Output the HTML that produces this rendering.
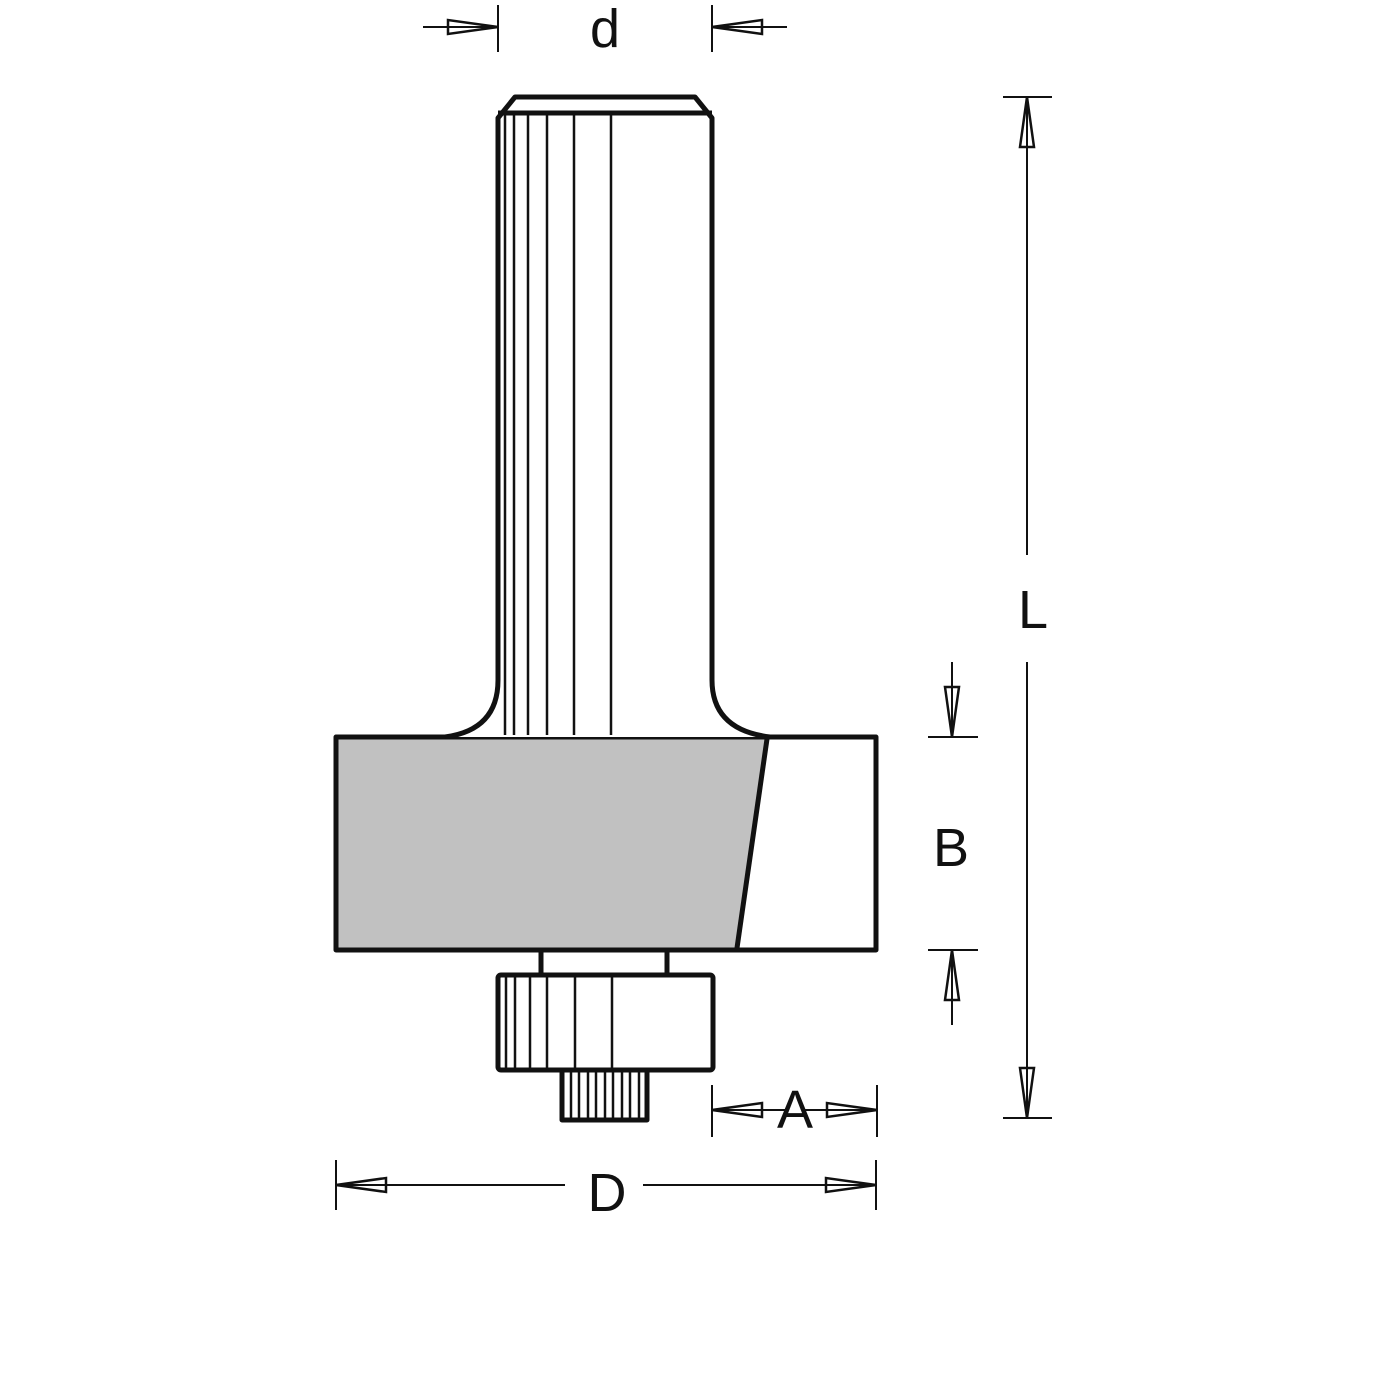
<!DOCTYPE html>
<html><head><style>body{margin:0;background:#fff}svg{display:block}text{font-family:"Liberation Sans",Arial,sans-serif;fill:#111}</style></head><body>
<svg width="1400" height="1400" viewBox="0 0 1400 1400" xmlns="http://www.w3.org/2000/svg">
<defs>
<g id="ah"><polygon points="0,0 50,-7 50,7" fill="#fff" stroke="#111" stroke-width="2.5"/><line x1="0" y1="0" x2="75" y2="0" stroke="#111" stroke-width="2"/></g>
</defs>
<g fill="none" stroke="#111" stroke-linejoin="round">
<polygon points="336,737 767,737 737,950 336,950" fill="#c1c1c1" stroke="none"/>
<rect x="336" y="737" width="540" height="213" stroke-width="5"/>
<line x1="767" y1="739" x2="737" y2="948" stroke-width="5"/>
<path d="M445,737 Q498,730 498,680 L498,118 L515,97 L695,97 L712,118 L712,680 Q712,730 770,737" stroke-width="5" fill="#fff"/>
<line x1="498" y1="113" x2="712" y2="113" stroke-width="5"/>
<g stroke-width="2.5">
<line x1="505" y1="113" x2="505" y2="735"/><line x1="514" y1="113" x2="514" y2="735"/><line x1="528" y1="113" x2="528" y2="735"/><line x1="547" y1="113" x2="547" y2="735"/><line x1="574" y1="113" x2="574" y2="735"/><line x1="611" y1="113" x2="611" y2="735"/>
</g>
<line x1="541" y1="952" x2="541" y2="975" stroke-width="5"/><line x1="667" y1="952" x2="667" y2="975" stroke-width="5"/>
<rect x="498" y="975" width="215" height="95" rx="3" stroke-width="5" fill="#fff"/>
<g stroke-width="2.5">
<line x1="506" y1="977" x2="506" y2="1068"/><line x1="515" y1="977" x2="515" y2="1068"/><line x1="530" y1="977" x2="530" y2="1068"/><line x1="547" y1="977" x2="547" y2="1068"/><line x1="575" y1="977" x2="575" y2="1068"/><line x1="612" y1="977" x2="612" y2="1068"/>
</g>
<path d="M562,1072 L562,1120 L647,1120 L647,1072" stroke-width="5"/>
<g stroke-width="2.5">
<line x1="571" y1="1072" x2="571" y2="1118"/><line x1="579" y1="1072" x2="579" y2="1118"/><line x1="588" y1="1072" x2="588" y2="1118"/><line x1="596" y1="1072" x2="596" y2="1118"/><line x1="605" y1="1072" x2="605" y2="1118"/><line x1="613" y1="1072" x2="613" y2="1118"/><line x1="622" y1="1072" x2="622" y2="1118"/><line x1="630" y1="1072" x2="630" y2="1118"/><line x1="639" y1="1072" x2="639" y2="1118"/>
</g>
<g stroke-width="2">
<line x1="498" y1="5" x2="498" y2="52"/><line x1="712" y1="5" x2="712" y2="52"/>
<line x1="1003" y1="97" x2="1052" y2="97"/><line x1="1003" y1="1118" x2="1052" y2="1118"/>
<line x1="1027" y1="97" x2="1027" y2="555"/><line x1="1027" y1="662" x2="1027" y2="1118"/>
<line x1="928" y1="737" x2="978" y2="737"/><line x1="928" y1="950" x2="978" y2="950"/>
<line x1="712" y1="1085" x2="712" y2="1137"/><line x1="877" y1="1085" x2="877" y2="1137"/>
<line x1="336" y1="1160" x2="336" y2="1210"/><line x1="876" y1="1160" x2="876" y2="1210"/>
<line x1="336" y1="1185" x2="565" y2="1185"/><line x1="643" y1="1185" x2="876" y2="1185"/>
</g>
</g>
<use href="#ah" transform="translate(498,27) rotate(180)"/>
<use href="#ah" transform="translate(712,27)"/>
<use href="#ah" transform="translate(1027,97) rotate(90)"/>
<use href="#ah" transform="translate(1027,1118) rotate(-90)"/>
<use href="#ah" transform="translate(952,737) rotate(-90)"/>
<use href="#ah" transform="translate(952,950) rotate(90)"/>
<use href="#ah" transform="translate(712,1110)"/>
<use href="#ah" transform="translate(877,1110) rotate(180)"/>
<use href="#ah" transform="translate(336,1185)"/>
<use href="#ah" transform="translate(876,1185) rotate(180)"/>
<g font-size="54" text-anchor="middle">
<text x="605" y="47">d</text>
<text x="1033" y="628">L</text>
<text x="951" y="866">B</text>
<text x="795" y="1128">A</text>
<text x="607" y="1211">D</text>
</g>
</svg>
</body></html>
